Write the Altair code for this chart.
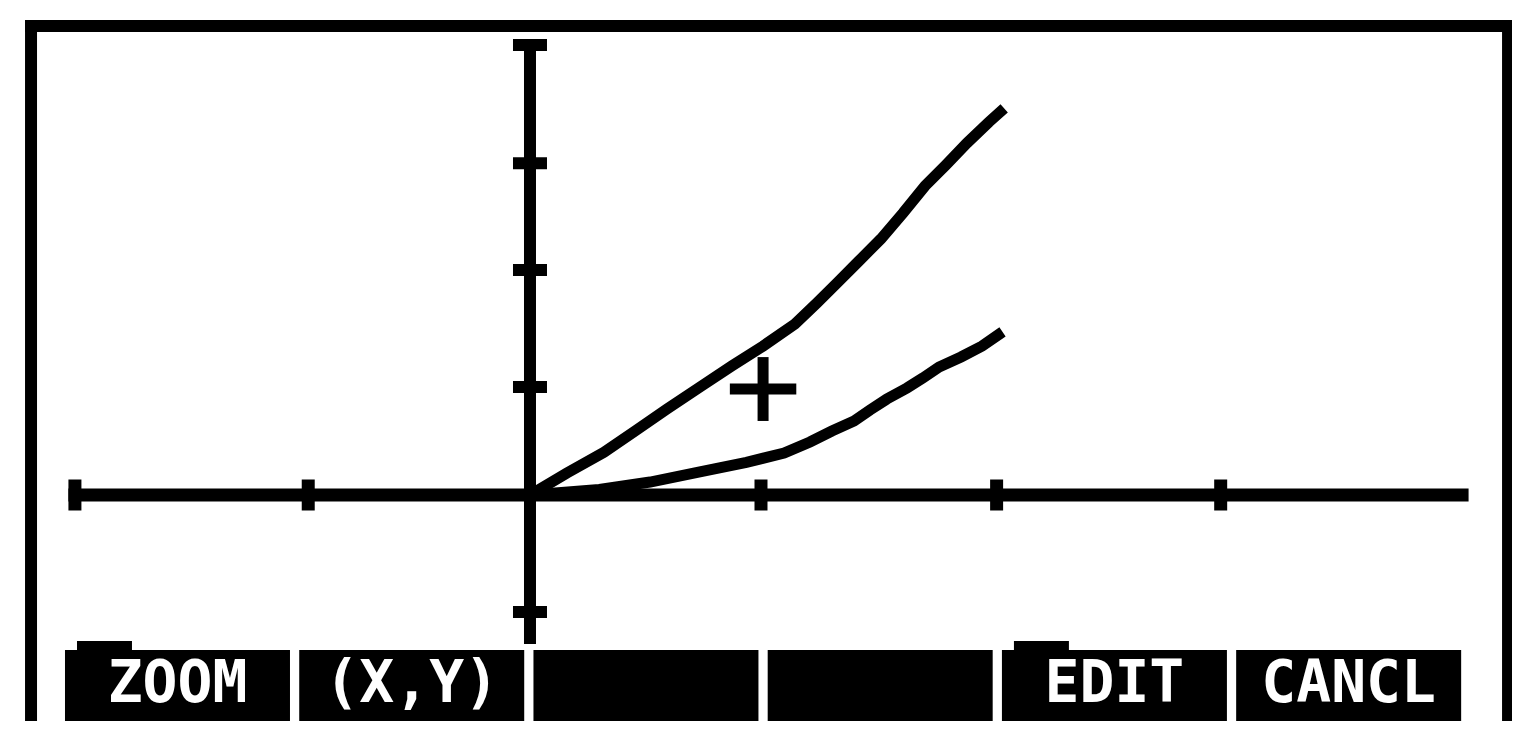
import altair as alt
import pandas as pd

# ---- data (plot units) ----
UPPER_X = [0, 0.16, 0.32, 0.455, 0.593, 0.736, 0.874, 1.009, 1.147, 1.242, 1.333,
           1.424, 1.519, 1.615, 1.71, 1.80, 1.892, 1.987, 2.035]
UPPER_Y = [0, 0.196, 0.38, 0.569, 0.764, 0.96, 1.147, 1.324, 1.52, 1.707, 1.893,
           2.08, 2.276, 2.507, 2.747, 2.933, 3.129, 3.316, 3.404]

LOWER_X = [0, 0.30, 0.52, 0.73, 0.937, 1.10, 1.212, 1.307, 1.403, 1.472, 1.545,
           1.632, 1.701, 1.771, 1.866, 1.957, 2.026]
LOWER_Y = [0, 0.05, 0.115, 0.204, 0.29, 0.373, 0.471, 0.569, 0.658, 0.756, 0.853,
           0.951, 1.04, 1.138, 1.227, 1.324, 1.422]

X_TICKS = [-1.97, -0.96, 1.0, 2.02, 2.99]
Y_TICKS = [4.0, 2.95, 2.0, 0.96, -1.04]
X_AXIS_RANGE = [-1.97, 4.035]
Y_AXIS_RANGE = [-1.271, 4.0]

CURSOR_X = 1.009
CURSOR_Y = 0.942
CURSOR_HALF_W = 0.12
CURSOR_HALF_H = 0.235

MENU_LABELS = ["ZOOM", "(X,Y)", "", "", "EDIT", "CANCL"]
MENU_TABS = [True, False, False, False, True, False]

FRAME_LEFT = -2.16
FRAME_RIGHT = 4.234
FRAME_TOP = 4.169

X_DOMAIN = [-2.2597, 4.2511]
Y_DOMAIN = [-2.0089, 4.3289]

xs = alt.Scale(domain=X_DOMAIN, nice=False, zero=False)
ys = alt.Scale(domain=Y_DOMAIN, nice=False, zero=False)


def X(f):
    return alt.X(f, type="quantitative", scale=xs, axis=None)


def Y(f):
    return alt.Y(f, type="quantitative", scale=ys, axis=None)


# ---- tables ----
curves = pd.DataFrame(
    {"x": UPPER_X + LOWER_X,
     "y": UPPER_Y + LOWER_Y,
     "series": ["upper"] * len(UPPER_X) + ["lower"] * len(LOWER_X)}
)
xt = pd.DataFrame({"x": X_TICKS, "y": [0] * len(X_TICKS)})
yt = pd.DataFrame({"x": [0] * len(Y_TICKS), "y": Y_TICKS})

hrules = pd.DataFrame({
    "x": [X_AXIS_RANGE[0], FRAME_LEFT, CURSOR_X - CURSOR_HALF_W],
    "x2": [X_AXIS_RANGE[1], FRAME_RIGHT, CURSOR_X + CURSOR_HALF_W],
    "y": [0, FRAME_TOP, CURSOR_Y],
    "w": [13, 12, 11],
})
vrules = pd.DataFrame({
    "x": [0, FRAME_LEFT, FRAME_RIGHT, CURSOR_X],
    "y": [Y_AXIS_RANGE[0], Y_DOMAIN[0], Y_DOMAIN[0], CURSOR_Y - CURSOR_HALF_H],
    "y2": [Y_AXIS_RANGE[1], FRAME_TOP, FRAME_TOP, CURSOR_Y + CURSOR_HALF_H],
    "w": [12, 12, 12, 11],
})

slot0, pitch, bw = -2.013, 1.014, 0.974
menu = pd.DataFrame({"label": MENU_LABELS, "tab": MENU_TABS})
menu["x0"] = [slot0 + i * pitch for i in range(len(MENU_LABELS))]
menu["x1"] = menu["x0"] + bw
menu["xc"] = menu["x0"] + bw / 2
menu["y0"] = -1.378
menu["y1"] = Y_DOMAIN[0]
menu["ty"] = -1.84
tabs = menu[menu["tab"]].copy()
tabs["tx0"] = tabs["x0"] + 0.052
tabs["tx1"] = tabs["x0"] + 0.29
tabs["ty0"] = -1.298

# ---- layers ----
lines = alt.Chart(curves).mark_line(color="black", strokeWidth=11, strokeCap="square").encode(
    x=X("x"), y=Y("y"), detail="series:N", order="x:Q"
)
h = alt.Chart(hrules).mark_rule(color="black", strokeCap="square").encode(
    x=X("x"), x2="x2", y=Y("y"),
    strokeWidth=alt.StrokeWidth("w:Q", scale=None),
)
v = alt.Chart(vrules).mark_rule(color="black", strokeCap="square").encode(
    x=X("x"), y=Y("y"), y2="y2",
    strokeWidth=alt.StrokeWidth("w:Q", scale=None),
)
xticks = alt.Chart(xt).mark_tick(color="black", orient="vertical", size=31, thickness=13, opacity=1).encode(
    x=X("x"), y=Y("y")
)
yticks = alt.Chart(yt).mark_tick(color="black", orient="horizontal", size=34, thickness=12, opacity=1).encode(
    x=X("x"), y=Y("y")
)
boxes = alt.Chart(menu).mark_rect(color="black").encode(
    x=X("x0"), x2="x1", y=Y("y0"), y2="y1"
)
tabrects = alt.Chart(tabs).mark_rect(color="black").encode(
    x=X("tx0"), x2="tx1", y=Y("ty0"), y2="y0"
)
labels = alt.Chart(menu).mark_text(
    font="DejaVu Sans Mono", fontWeight="bold", fontSize=58, color="white",
    align="center", baseline="alphabetic"
).encode(x=X("xc"), y=Y("ty"), text="label:N")

chart = alt.layer(v, h, xticks, yticks, lines, boxes, tabrects, labels).properties(
    width=1504, height=713, padding=0, background="white",
    autosize=alt.AutoSizeParams(type="none"),
).configure_view(stroke=None)

chart.save("out.html", embed_options={"renderer": "svg", "actions": False})
